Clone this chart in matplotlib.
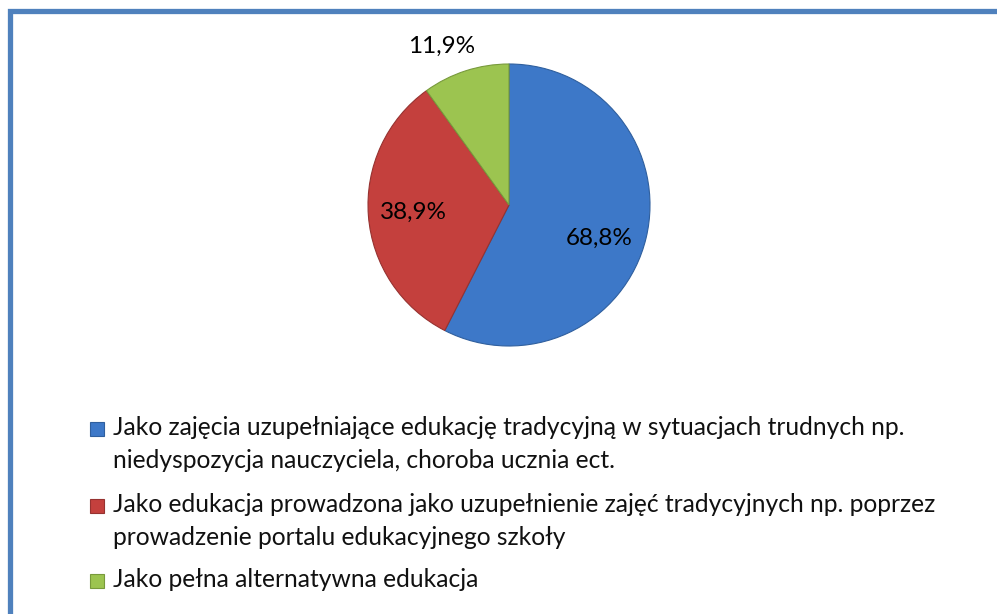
import matplotlib.pyplot as plt
import matplotlib.patches as mpatches
import numpy as np

plt.rcParams['font.family'] = ['Lato', 'DejaVu Sans']

# data
categories = [
    'Jako zajęcia uzupełniające edukację tradycyjną w sytuacjach trudnych np.\nniedyspozycja nauczyciela, choroba ucznia ect.',
    'Jako edukacja prowadzona jako uzupełnienie zajęć tradycyjnych np. poprzez\nprowadzenie portalu edukacyjnego szkoły',
    'Jako pełna alternatywna edukacja',
]
values = [68.8, 38.9, 11.9]
colors = ['#3d78c8', '#c4403d', '#9cc450']
edges = ['#2f5f9e', '#963230', '#789a3c']

W, H = 997, 614
fig = plt.figure(figsize=(W / 100, H / 100), dpi=100)

# outer frame (runs off the right and bottom edge)
fig.add_artist(mpatches.Rectangle((9.5 / W, -0.1), 1.2, 1.1 - 11.5 / H,
                                  transform=fig.transFigure, fill=False,
                                  edgecolor='#4f81bd', linewidth=3.8))

# pie axes: centre (509, 205) px, radius 141 px
cx, cy, r = 509, 205, 141
half = 1.25 * r
ax = fig.add_axes([(cx - half) / W, (H - cy - half) / H, 2 * half / W, 2 * half / H])
wedges, _ = ax.pie(values, colors=colors, startangle=90, counterclock=False,
                   wedgeprops=dict(linewidth=0.8))
for w, ec in zip(wedges, edges):
    w.set_edgecolor(ec)
ax.set_xlim(-1.25, 1.25)
ax.set_ylim(-1.25, 1.25)
ax.set_aspect('equal')

label_r = [0.68, 0.68, 1.22]
label_shift = [-7, 0, 5]
for w, v, lr, sh in zip(wedges, values, label_r, label_shift):
    ang = np.deg2rad((w.theta1 + w.theta2) / 2 + sh)
    ax.text(lr * np.cos(ang), lr * np.sin(ang), f'{v:.1f}%'.replace('.', ','),
            ha='center', va='center', fontsize=17.5, color='black')

# legend
ys = [429, 506, 581]
for lab, col, ec, y in zip(categories, colors, edges, ys):
    fig.add_artist(mpatches.Rectangle((90 / W, 1 - (y + 7) / H), 14 / W, 14 / H,
                                      transform=fig.transFigure, facecolor=col,
                                      edgecolor=ec, linewidth=0.8))
    fig.text(113 / W, 1 - (y - 13) / H, lab, ha='left', va='top',
             fontsize=17.7, linespacing=1.55, color='#111111')

fig.savefig('out.png', dpi=100)
